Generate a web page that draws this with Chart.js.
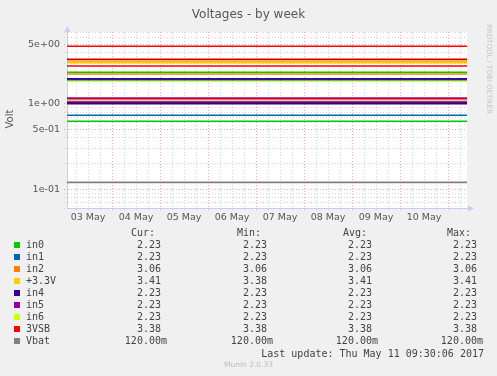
<!DOCTYPE html>
<html><head><meta charset="utf-8">
<script src="https://cdn.jsdelivr.net/npm/chart.js@4/dist/chart.umd.min.js"></script>
<style>
html,body{margin:0;padding:0;background:#f0f0f0;width:497px;height:376px;overflow:hidden;}
#wrap{position:absolute;left:0;top:0;width:497px;height:376px;}
.t{position:absolute;white-space:pre;line-height:12px;}
.sans{font-family:"DejaVu Sans",sans-serif;}
.mono{font-family:"DejaVu Sans Mono",monospace;font-size:10px;color:#444;}
.sw{position:absolute;width:6px;height:6px;}
</style></head><body>
<div id="wrap"><canvas id="c" width="497" height="376"></canvas></div>
<div id="txt"></div>
<script>
// ---- data ----
const timeWindow = [1.5, 201.5];               // hours after 03 May 00:00 (start, last update)
const dayLabels = ['03 May','04 May','05 May','06 May','07 May','08 May','09 May','10 May'];
const yGridValues = [0.06,0.07,0.08,0.09,0.1,0.2,0.3,0.4,0.5,0.6,0.7,0.8,0.9,1,2,3,4,5,6,7];
const yMajorValues = [0.1,0.5,1,5];
const yMajorLabels = ['1e-01','5e-01','1e+00','5e+00'];
const levelValues = [4.76,3.35,3.20,3.06,2.79,2.36,2.25,1.97,1.93,1.86,1.17,1.12,1.05,1.01,0.737,0.627,0.120];
const levelColors = ['#ff0000','#cc0000','#ff9900','#ffcc00','#ff0000','#00cc00','#ff8000','#330099','#0066b3','#ccff00','#990099','#ff8000','#660066','#330099','#0066b3','#00cc00','#808080'];
const seriesNames = ['in0','in1','in2','+3.3V','in4','in5','in6','3VSB','Vbat'];
const seriesColors = ['#00cc00','#0066b3','#ff8000','#ffcc00','#330099','#990099','#ccff00','#ff0000','#808080'];
const curValues = [2.23,2.23,3.06,3.41,2.23,2.23,2.23,3.38,0.12];
const minValues = [2.23,2.23,3.06,3.38,2.23,2.23,2.23,3.38,0.12];
const avgValues = [2.23,2.23,3.06,3.41,2.23,2.23,2.23,3.38,0.12];
const maxValues = [2.23,2.23,3.06,3.41,2.23,2.23,2.23,3.38,0.12];
const lastUpdate = 'Last update: Thu May 11 09:30:06 2017';

// ---- chart ----
const RED_GRID = 'rgba(240,150,150,0.8)';
const GRAY_GRID = 'rgba(200,200,200,0.8)';
const AXIS = '#c8ccf2';

const datasets = levelValues.map((v, i) => ({
  data: timeWindow.map(t => ({x: t, y: v})),
  borderColor: levelColors[i],
  borderWidth: 1.6,
  pointRadius: 0,
  fill: false,
  tension: 0
}));

const bgPlugin = {
  id: 'bg',
  beforeDraw(chart) {
    const {ctx, chartArea: a} = chart;
    ctx.save();
    ctx.fillStyle = '#ffffff';
    ctx.fillRect(a.left, a.top, a.right - a.left, a.bottom - a.top);
    ctx.restore();
  },
  afterDraw(chart) {
    const {ctx, chartArea: a} = chart;
    ctx.save();
    ctx.strokeStyle = AXIS; ctx.fillStyle = AXIS; ctx.lineWidth = 1;
    ctx.beginPath();
    ctx.moveTo(a.right, a.bottom + 0.5); ctx.lineTo(a.right + 2, a.bottom + 0.5);
    ctx.stroke();
    ctx.beginPath();
    ctx.moveTo(a.right + 7, a.bottom + 0.5);
    ctx.lineTo(a.right + 1, a.bottom - 2.5);
    ctx.lineTo(a.right + 1, a.bottom + 3.5);
    ctx.closePath(); ctx.fill();
    ctx.beginPath();
    ctx.moveTo(a.left + 0.5, a.top - 6);
    ctx.lineTo(a.left - 2.5, a.top);
    ctx.lineTo(a.left + 3.5, a.top);
    ctx.closePath(); ctx.fill();
    ctx.restore();
  }
};

new Chart(document.getElementById('c'), {
  type: 'line',
  data: {datasets},
  plugins: [bgPlugin],
  options: {
    responsive: false,
    animation: false,
    devicePixelRatio: 1,
    layout: {padding: {left: 0, top: 32, right: 30, bottom: 0}},
    plugins: {legend: {display: false}, tooltip: {enabled: false}},
    scales: {
      x: {
        type: 'linear',
        min: timeWindow[0],
        max: timeWindow[1],
        afterBuildTicks(scale) {
          const t = [];
          for (let h = 6; h < timeWindow[1]; h += 6) if (h > timeWindow[0]) t.push({value: h});
          scale.ticks = t;
        },
        afterFit(scale) { scale.height = 168; },
        ticks: {
          autoSkip: false, maxRotation: 0, minRotation: 0, padding: 1,
          color: '#555', font: {family: 'DejaVu Sans', size: 9.5},
          callback: v => (v % 24 === 12 ? dayLabels[(v - 12) / 24] : '')
        },
        grid: {
          color: c => (c.tick && c.tick.value % 24 === 0 ? RED_GRID : GRAY_GRID),
          tickColor: c => (c.tick && c.tick.value % 24 === 0 ? RED_GRID : GRAY_GRID),
          lineWidth: 1, tickLength: 3, borderDash: [1, 2], tickBorderDash: [1, 2]
        },
        border: {display: true, color: AXIS, width: 1, dash: [1, 2]}
      },
      y: {
        type: 'logarithmic',
        min: 0.06,
        max: 7,
        afterBuildTicks(scale) { scale.ticks = yGridValues.map(v => ({value: v})); },
        afterFit(scale) { scale.width = 67; },
        ticks: {
          autoSkip: false, padding: 4,
          color: '#555', font: {family: 'DejaVu Sans', size: 9.5},
          callback: v => { const k = yMajorValues.findIndex(m => Math.abs(m - v) < 1e-9); return k >= 0 ? yMajorLabels[k] : ''; }
        },
        grid: {
          color: c => (c.tick && yMajorValues.some(m => Math.abs(m - c.tick.value) < 1e-9) ? RED_GRID : GRAY_GRID),
          tickColor: c => (c.tick && yMajorValues.some(m => Math.abs(m - c.tick.value) < 1e-9) ? RED_GRID : GRAY_GRID),
          lineWidth: 1, tickLength: 3, borderDash: [1, 2], tickBorderDash: [1, 2]
        },
        border: {display: true, color: AXIS, width: 1, dash: [1, 2]}
      }
    }
  }
});

// ---- text around the plot ----
const txt = document.getElementById('txt');
function add(html, style, cls) {
  const d = document.createElement('div');
  d.className = 't ' + (cls || '');
  d.style.cssText = style;
  d.textContent = html;
  txt.appendChild(d);
  return d;
}
add('Voltages - by week', 'left:0;width:497px;text-align:center;top:7.5px;font-size:12px;color:#555;', 'sans');
add('Volt', 'left:0px;top:113px;font-size:10px;color:#555;transform:rotate(-90deg);transform-origin:center;width:20px;text-align:center;', 'sans');
add('RRDTOOL / TOBI OETIKER', 'left:484px;top:24px;font-size:7px;color:#c4c4c4;writing-mode:vertical-rl;line-height:10px;', 'sans');
add('Munin 2.0.33', 'left:0;width:497px;text-align:center;top:359px;font-size:7.5px;color:#bdbdbd;', 'sans');

const headY = 233.3 - 6;
add('Cur:', 'left:131px;top:' + headY + 'px;', 'mono');
add('Min:', 'left:237px;top:' + headY + 'px;', 'mono');
add('Avg:', 'left:343px;top:' + headY + 'px;', 'mono');
add('Max:', 'left:447px;top:' + headY + 'px;', 'mono');
function fmt(v) { return v < 1 ? (v * 1000).toFixed(2) + 'm' : v.toFixed(2) + ' '; }
const colRight = [167, 273, 378, 483];
seriesNames.forEach((name, i) => {
  const cy = 245.3 + 12 * i;
  const sw = document.createElement('div');
  sw.className = 'sw';
  sw.style.cssText = 'left:14px;top:' + (cy - 3) + 'px;background:' + seriesColors[i] + ';';
  txt.appendChild(sw);
  add(name, 'left:26px;top:' + (cy - 6) + 'px;', 'mono');
  [curValues, minValues, avgValues, maxValues].forEach((arr, k) => {
    add(fmt(arr[i]), 'right:' + (497 - colRight[k]) + 'px;top:' + (cy - 6) + 'px;text-align:right;', 'mono');
  });
});
add(lastUpdate, 'right:' + (497 - 484) + 'px;top:' + (354 - 6) + 'px;', 'mono');
</script>
</body></html>
